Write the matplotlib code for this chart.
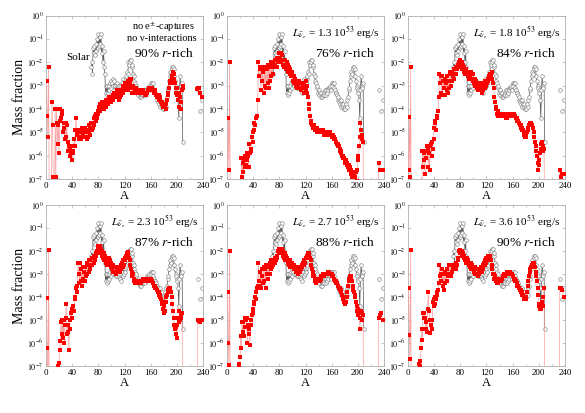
import numpy as np
import matplotlib

matplotlib.use("Agg")
import matplotlib.pyplot as plt
from matplotlib.ticker import FixedLocator, MultipleLocator, NullLocator

plt.rcParams["font.family"] = ["Liberation Serif", "DejaVu Serif"]
plt.rcParams["mathtext.fontset"] = "stix"

# log10 of mass fraction; -9 means far below the plotted range
SOLAR_A_START = 69
SOLAR_LOG = [
    -2.2, -2.0, -2.5, -1.4, -1.6, -1.3, -1.7, -1.2, -1.5, -1.0,
    -1.4, -0.8, -1.3, -0.9, -1.2, -0.8, -1.6, -1.3, -2.0, -1.5,
    -2.2, -2.5, -3.3, -3.0, -3.4, -3.0, -3.3, -3.0, -3.2, -2.9,
    -3.1, -2.8, -2.9, -2.7, -3.0, -2.8, -3.0, -3.0, -3.1, -2.9,
    -3.1, -3.0, -3.1, -3.0, -3.2, -3.0, -3.3, -2.9, -3.1, -2.7,
    -3.0, -2.8, -2.9, -2.7, -2.6, -2.4, -2.5, -2.0, -2.1, -1.9,
    -2.0, -1.9, -2.2, -2.1, -2.5, -2.6, -2.8, -2.9, -3.1, -3.0,
    -3.3, -3.2, -3.4, -3.3, -3.5, -3.3, -3.5, -3.4, -3.4, -3.3,
    -3.4, -3.2, -3.4, -3.2, -3.3, -3.1, -3.2, -3.1, -3.1, -3.0,
    -3.2, -2.9, -3.0, -2.9, -3.1, -2.9, -3.2, -3.3, -3.3, -3.4,
    -3.6, -3.5, -3.7, -3.6, -3.8, -3.6, -3.9, -3.8, -3.9, -3.8,
    -4.0, -3.9, -4.0, -3.8, -3.9, -3.6, -3.5, -3.2, -3.1, -2.8,
    -2.6, -2.4, -2.5, -2.2, -2.3, -2.2, -2.3, -2.6, -2.8, -3.0,
    -3.1, -3.2, -3.3, -3.6, -4.4, -3.2, -2.6, -3.0, -3.1, -2.9,
    -5.4,
]
SOLAR_TAIL_A = [232, 235, 238]
SOLAR_TAIL_LOG = [-3.2, -4.1, -3.6]

TAIL_A = [231, 232, 234, 236, 238]

RED_NOCAP = [
    -2.8, -4.3, -5.2, -2.2, -9, -9, -9, -9, -3.7, -4.7,
    -6.9, -9, -9, -4.0, -6.9, -4.0, -4.6, -5.5, -4.7, -5.9,
    -4.5, -4.0, -4.4, -4.1, -4.2, -5.0, -4.6, -4.8, -5.3, -4.6,
    -5.2, -4.7, -5.8, -5.4, -5.6, -6.0, -5.7, -5.9, -5.6, -6.2,
    -5.9, -5.8, -5.3, -5.6, -4.9, -4.4, -5.0, -5.1, -5.0, -5.3,
    -4.9, -5.2, -5.0, -5.3, -4.8, -5.1, -4.9, -5.2, -4.8, -5.0,
    -4.9, -5.3, -4.9, -5.2, -4.7, -5.0, -4.8, -5.1, -4.6, -4.9,
    -4.6, -4.8, -4.4, -4.7, -4.3, -4.5, -4.2, -4.4, -4.1, -4.2,
    -3.9, -4.1, -3.8, -4.0, -3.7, -3.9, -3.8, -4.0, -3.8, -3.7,
    -3.9, -3.6, -3.8, -3.6, -3.8, -3.5, -3.7, -3.6, -3.7, -3.5,
    -3.6, -3.4, -3.6, -3.3, -3.5, -3.3, -3.4, -3.2, -3.5, -3.4,
    -3.6, -3.3, -3.5, -3.2, -3.4, -3.2, -3.3, -3.0, -3.2, -2.9,
    -3.1, -3.2, -3.0, -2.9, -3.2, -2.8, -3.0, -2.7, -2.9, -2.7,
    -3.1, -3.3, -3.0, -3.3, -3.1, -3.2, -3.1, -3.3, -3.2, -3.3,
    -3.2, -3.3, -3.3, -3.2, -3.3, -3.3, -3.2, -3.3, -3.2, -3.3,
    -3.4, -3.3, -3.4, -3.3, -3.3, -3.2, -3.2, -3.1, -3.2, -3.1,
    -3.2, -3.1, -3.2, -3.2, -3.3, -3.2, -3.3, -3.4, -3.4, -3.5,
    -3.5, -3.4, -3.6, -3.5, -3.6, -3.7, -3.8, -3.7, -3.9, -3.8,
    -3.9, -3.9, -4.0, -3.8, -3.6, -3.4, -3.3, -3.1, -2.9, -2.8,
    -2.9, -2.6, -2.7, -2.4, -2.5, -2.7, -2.9, -3.1, -3.3, -3.1,
    -3.4, -3.6, -3.3, -3.9, -3.5, -4.0, -3.7, -3.2, -3.0, -3.1,
]
RED_NOCAP_TAIL = [-3.15, -3.1, -3.1, -3.3, -3.5]

RED_L13 = [
    -6.6, -4.4, -6.6, -2.0, -9, -9, -9, -9, -9, -9,
    -9, -9, -9, -9, -9, -9, -9, -9, -9, -9,
    -9, -6.1, -6.9, -6.3, -6.7, -6.2, -6.5, -6.0, -6.4, -5.9,
    -6.2, -6.0, -6.5, -5.5, -5.9, -5.7, -5.8, -5.2, -5.4, -5.0,
    -4.9, -4.6, -4.7, -4.4, -4.4, -4.3, -3.6, -2.0, -2.6, -2.2,
    -2.3, -3.2, -2.2, -2.8, -2.4, -3.3, -2.3, -3.0, -2.2, -3.1,
    -2.3, -2.9, -2.1, -3.1, -2.2, -2.8, -2.0, -2.6, -2.1, -2.5,
    -2.0, -2.2, -1.9, -2.1, -1.9, -2.2, -1.8, -2.0, -1.6, -1.6,
    -1.8, -1.6, -2.0, -1.7, -2.1, -1.9, -2.2, -1.9, -2.1, -2.3,
    -2.0, -2.3, -2.1, -2.4, -2.2, -2.5, -2.3, -2.6, -2.4, -2.5,
    -2.8, -2.6, -2.9, -2.7, -3.0, -2.8, -3.1, -2.9, -3.0, -2.8,
    -3.1, -2.9, -3.2, -2.9, -3.1, -3.0, -3.3, -2.9, -3.0, -2.8,
    -3.2, -3.0, -3.3, -3.5, -3.8, -4.0, -4.3, -4.5, -4.6, -4.7,
    -4.7, -4.8, -4.7, -4.9, -4.8, -4.9, -4.8, -5.0, -4.9, -4.9,
    -5.0, -4.9, -5.0, -4.9, -4.9, -5.0, -4.9, -5.0, -5.1, -5.0,
    -5.1, -5.0, -5.1, -5.0, -5.1, -5.0, -5.1, -5.0, -5.1, -5.1,
    -5.2, -5.1, -5.2, -5.3, -5.3, -5.4, -5.4, -5.5, -5.5, -5.6,
    -5.6, -5.7, -5.8, -5.8, -5.9, -6.0, -6.0, -6.1, -6.1, -6.2,
    -6.3, -6.2, -6.4, -6.3, -6.5, -6.4, -6.6, -6.5, -6.8, -6.6,
    -6.9, -6.7, -7.2, -6.8, -7.3, -6.9, -6.7, -7.1, -6.6, -6.2,
    -6.0, -5.6, -5.2, -4.6, -4.9, -5.3, -5.1, -5.4, -9, -9,
]
RED_L13_TAIL = [-9, -6.3, -6.6, -6.6, -6.6]

RED_L18 = [
    -6.6, -4.35, -6.9, -2.2, -9, -9, -9, -9, -9, -9,
    -9, -9, -9, -9, -9, -9, -9, -9, -9, -9,
    -9, -5.8, -6.5, -5.9, -6.2, -6.8, -5.8, -6.1, -5.6, -5.7,
    -6.5, -5.9, -6.6, -5.6, -5.5, -6.0, -5.4, -5.7, -5.3, -4.8,
    -4.6, -4.5, -4.9, -4.3, -4.4, -4.1, -3.5, -2.5, -2.9, -2.6,
    -3.3, -2.6, -3.4, -2.8, -3.1, -2.7, -3.4, -2.9, -3.2, -2.6,
    -3.3, -2.8, -3.1, -2.4, -3.0, -2.5, -2.8, -2.4, -2.6, -2.3,
    -2.7, -2.3, -2.5, -2.2, -2.3, -2.1, -2.2, -2.0, -1.9, -1.9,
    -2.1, -2.0, -2.3, -2.1, -2.4, -2.2, -2.5, -2.3, -2.5, -2.4,
    -2.6, -2.4, -2.7, -2.5, -2.6, -2.4, -2.7, -2.5, -2.8, -2.5,
    -2.9, -2.7, -3.0, -2.8, -3.1, -2.9, -3.2, -3.0, -3.1, -2.9,
    -3.2, -3.0, -3.3, -3.0, -3.2, -2.9, -3.1, -2.8, -3.0, -2.8,
    -2.9, -2.7, -2.8, -2.6, -2.7, -2.5, -2.6, -2.4, -2.7, -2.9,
    -3.1, -3.5, -3.7, -3.9, -4.0, -4.2, -4.1, -4.3, -4.2, -4.3,
    -4.2, -4.3, -4.2, -4.3, -4.3, -4.2, -4.3, -4.2, -4.3, -4.4,
    -4.3, -4.4, -4.3, -4.2, -4.3, -4.2, -4.2, -4.3, -4.2, -4.2,
    -4.3, -4.2, -4.3, -4.3, -4.4, -4.4, -4.5, -4.5, -4.6, -4.6,
    -4.7, -4.7, -4.8, -4.8, -4.9, -4.9, -5.0, -5.1, -5.2, -5.1,
    -5.2, -5.0, -4.9, -4.8, -4.7, -4.7, -4.6, -4.6, -4.7, -4.7,
    -4.8, -5.0, -5.2, -5.4, -5.6, -5.8, -6.0, -6.3, -6.6, -6.4,
    -6.2, -5.9, -5.5, -5.7, -5.4, -5.8, -5.6, -5.7, -9, -9,
]
RED_L18_TAIL = [-9, -6.6, -6.9, -6.8, -6.8]

RED_L23 = [
    -4.05, -6.2, -9, -1.95, -9, -9, -9, -9, -9, -9,
    -9, -9, -9, -9, -9, -9, -9, -7.0, -9, -6.85,
    -6.3, -5.9, -5.1, -5.6, -5.0, -5.8, -5.0, -6.0, -5.2, -4.9,
    -4.3, -5.6, -5.2, -5.5, -6.3, -5.4, -5.0, -4.7, -4.9, -4.5,
    -4.6, -4.4, -4.6, -4.0, -4.1, -3.6, -3.8, -3.5, -2.5, -3.0,
    -3.4, -2.5, -3.3, -2.8, -3.5, -2.7, -3.2, -2.9, -3.3, -2.7,
    -3.1, -2.5, -3.0, -2.6, -2.9, -2.4, -2.8, -2.4, -2.6, -2.3,
    -2.6, -2.3, -2.5, -2.2, -2.4, -2.1, -2.2, -2.0, -1.9, -1.8,
    -2.0, -1.8, -2.1, -1.9, -2.2, -2.0, -2.3, -2.1, -2.4, -2.2,
    -2.5, -2.3, -2.6, -2.4, -2.5, -2.3, -2.6, -2.4, -2.7, -2.5,
    -2.8, -2.6, -2.9, -2.7, -2.9, -2.7, -3.0, -2.8, -2.9, -2.7,
    -2.9, -2.7, -2.9, -2.6, -2.8, -2.5, -2.7, -2.4, -2.6, -2.3,
    -2.4, -2.2, -2.3, -2.1, -2.2, -2.05, -2.3, -2.4, -2.6, -2.8,
    -2.9, -3.1, -3.0, -3.3, -3.2, -3.4, -3.3, -3.4, -3.3, -3.4,
    -3.3, -3.4, -3.3, -3.3, -3.4, -3.3, -3.3, -3.2, -3.3, -3.2,
    -3.3, -3.2, -3.3, -3.2, -3.2, -3.2, -3.2, -3.2, -3.3, -3.2,
    -3.3, -3.3, -3.4, -3.4, -3.5, -3.5, -3.6, -3.6, -3.7, -3.7,
    -3.8, -3.8, -3.9, -3.9, -4.0, -4.1, -4.3, -4.2, -4.5, -4.4,
    -4.7, -4.6, -4.2, -4.0, -3.9, -3.8, -3.7, -3.6, -3.6, -3.7,
    -3.8, -4.0, -4.3, -4.6, -4.9, -5.2, -5.4, -5.3, -5.6, -5.8,
    -5.2, -4.9, -5.1, -4.6, -5.0, -4.8, -4.9, -4.7, -9, -9,
]
RED_L23_TAIL = [-9, -5.0, -5.05, -5.1, -5.0]

RED_L27 = [
    -3.8, -6.0, -6.95, -2.0, -9, -9, -9, -9, -9, -9,
    -9, -9, -9, -9, -9, -9, -9, -6.9, -7.1, -6.6,
    -5.7, -6.2, -5.1, -5.5, -5.1, -5.7, -5.3, -4.9, -5.0, -4.9,
    -6.0, -5.2, -5.6, -5.4, -6.1, -5.2, -5.0, -4.8, -4.7, -4.5,
    -4.3, -4.2, -4.0, -4.1, -3.8, -3.6, -3.5, -2.5, -3.3, -3.5,
    -2.9, -3.6, -2.8, -3.1, -3.4, -2.7, -3.3, -2.8, -3.6, -2.6,
    -3.0, -2.7, -3.2, -2.6, -3.0, -2.5, -2.8, -2.4, -2.7, -2.5,
    -2.6, -2.4, -2.5, -2.3, -2.4, -2.2, -2.3, -2.0, -2.1, -1.9,
    -2.0, -1.9, -2.1, -1.9, -2.2, -2.0, -2.3, -2.1, -2.4, -2.2,
    -2.4, -2.3, -2.5, -2.4, -2.6, -2.4, -2.7, -2.5, -2.6, -2.5,
    -2.7, -2.6, -2.8, -2.7, -2.9, -2.7, -2.9, -2.8, -3.0, -2.7,
    -2.9, -2.7, -2.8, -2.6, -2.7, -2.5, -2.6, -2.4, -2.5, -2.3,
    -2.3, -2.2, -2.2, -2.1, -2.2, -2.1, -2.3, -2.4, -2.6, -2.8,
    -2.9, -3.1, -3.1, -3.3, -3.2, -3.4, -3.3, -3.3, -3.2, -3.3,
    -3.2, -3.3, -3.1, -3.2, -3.1, -3.1, -3.0, -3.1, -3.0, -3.0,
    -3.0, -3.0, -3.0, -2.9, -3.0, -2.9, -3.0, -3.0, -3.0, -3.0,
    -3.1, -3.1, -3.2, -3.2, -3.3, -3.3, -3.4, -3.4, -3.5, -3.5,
    -3.6, -3.6, -3.7, -3.7, -3.8, -3.9, -4.0, -4.1, -4.2, -4.3,
    -4.3, -4.2, -4.0, -3.8, -3.5, -3.3, -3.2, -3.1, -3.1, -3.2,
    -3.3, -3.5, -3.7, -3.8, -4.0, -3.9, -4.2, -4.4, -4.6, -4.5,
    -4.8, -4.7, -5.4, -4.9, -4.6, -5.0, -4.7, -4.8, -9, -9,
]
RED_L27_TAIL = [-9, -4.9, -4.8, -4.7, -5.0]

RED_L36 = [
    -3.6, -5.65, -6.7, -1.95, -9, -9, -9, -9, -9, -9,
    -9, -9, -9, -9, -9, -9, -6.9, -7.0, -6.8, -6.2,
    -5.4, -5.85, -4.7, -4.9, -4.7, -4.9, -5.4, -5.1, -5.5, -4.5,
    -3.8, -4.6, -5.0, -5.55, -5.2, -5.4, -5.0, -4.2, -4.4, -4.1,
    -4.3, -4.0, -4.1, -3.8, -3.9, -3.7, -3.4, -2.6, -3.1, -3.0,
    -3.3, -2.8, -3.5, -3.0, -3.7, -2.9, -3.4, -3.0, -3.3, -2.8,
    -3.1, -2.6, -3.0, -2.6, -3.1, -2.6, -2.9, -2.6, -2.8, -2.6,
    -2.7, -2.6, -2.8, -2.5, -2.6, -2.3, -2.4, -2.0, -2.1, -1.95,
    -2.1, -2.0, -2.2, -2.1, -2.3, -2.2, -2.4, -2.3, -2.5, -2.3,
    -2.5, -2.4, -2.6, -2.5, -2.7, -2.5, -2.8, -2.6, -2.8, -2.7,
    -2.9, -2.7, -3.0, -2.8, -3.0, -2.8, -3.1, -2.9, -3.0, -2.8,
    -2.9, -2.7, -2.9, -2.6, -2.8, -2.5, -2.6, -2.4, -2.5, -2.3,
    -2.4, -2.2, -2.3, -2.2, -2.3, -2.2, -2.4, -2.6, -2.8, -3.0,
    -3.0, -3.2, -3.1, -3.3, -3.2, -3.4, -3.3, -3.4, -3.3, -3.3,
    -3.2, -3.3, -3.2, -3.2, -3.1, -3.1, -3.0, -3.1, -3.0, -3.0,
    -3.0, -2.9, -3.0, -2.9, -3.0, -2.9, -3.0, -3.0, -3.0, -3.1,
    -3.1, -3.2, -3.2, -3.3, -3.3, -3.4, -3.5, -3.5, -3.6, -3.6,
    -3.7, -3.7, -3.8, -3.8, -3.9, -3.9, -4.0, -4.1, -4.0, -4.1,
    -4.0, -3.8, -3.5, -3.3, -3.1, -2.9, -2.8, -2.7, -2.6, -2.6,
    -2.5, -2.5, -2.6, -2.7, -2.9, -3.1, -3.3, -3.6, -3.9, -4.3,
    -4.4, -4.5, -4.3, -4.5, -4.2, -4.4, -4.0, -3.6, -9, -9,
]
RED_L36_TAIL = [-9, -3.6, -3.6, -3.7, -4.0]

PANEL_LABELS = [
    None,
    r"$L_{\bar{\nu}_e}$ = 1.3 10$^{53}$ erg/s",
    r"$L_{\bar{\nu}_e}$ = 1.8 10$^{53}$ erg/s",
    r"$L_{\bar{\nu}_e}$ = 2.3 10$^{53}$ erg/s",
    r"$L_{\bar{\nu}_e}$ = 2.7 10$^{53}$ erg/s",
    r"$L_{\bar{\nu}_e}$ = 3.6 10$^{53}$ erg/s",
]
RICH_LABELS = ["90%", "76%", "84%", "87%", "88%", "90%"]
RED_SERIES = [RED_NOCAP, RED_L13, RED_L18, RED_L23, RED_L27, RED_L36]
RED_TAILS = [RED_NOCAP_TAIL, RED_L13_TAIL, RED_L18_TAIL, RED_L23_TAIL,
             RED_L27_TAIL, RED_L36_TAIL]

X_TICKS = [0, 40, 80, 120, 160, 200, 240]
Y_EXPONENTS = [0, -1, -2, -3, -4, -5, -6, -7]

solar_a = np.arange(SOLAR_A_START, SOLAR_A_START + len(SOLAR_LOG))

fig = plt.figure(figsize=(5.85, 4.13), dpi=100)
W, H = 585.0, 413.0
col_left = [46, 227, 408]
col_width = 157
rows = [(15.7, 179.0), (205.0, 366.0)]

frame_color = "#b0b0b0"
red_line = "#ffa0a0"

for idx in range(6):
    r, c = divmod(idx, 3)
    top, bottom = rows[r]
    ax = fig.add_axes([col_left[c] / W, 1 - bottom / H, col_width / W, (bottom - top) / H])

    # solar reference, same in every panel
    ax.plot(solar_a, 10.0 ** np.array(SOLAR_LOG), color="#505050", lw=0.5,
            marker="o", ms=2.6, mfc="white", mec="#808080", mew=0.45, zorder=2)
    ax.plot(SOLAR_TAIL_A, 10.0 ** np.array(SOLAR_TAIL_LOG), ls="none",
            marker="o", ms=2.6, mfc="white", mec="#808080", mew=0.45, zorder=2)

    red = 10.0 ** np.array(RED_SERIES[idx])
    a = np.arange(1, len(red) + 1)
    ax.plot(a, red, color=red_line, lw=0.5, zorder=3)
    ax.plot(a, red, ls="none", marker="s", ms=2.4, color="#ff0000", mew=0, zorder=4)
    tail = 10.0 ** np.array(RED_TAILS[idx])
    ax.plot(TAIL_A, tail, color=red_line, lw=0.5, zorder=3)
    ax.plot(TAIL_A, tail, ls="none", marker="s", ms=2.4, color="#ff0000", mew=0, zorder=4)

    ax.set_yscale("log")
    ax.set_xlim(0, 240)
    ax.set_ylim(1e-7, 1)
    ax.xaxis.set_major_locator(FixedLocator(X_TICKS))
    ax.xaxis.set_minor_locator(MultipleLocator(20))
    ax.set_xticklabels([str(t) for t in X_TICKS])
    ax.yaxis.set_major_locator(FixedLocator([10.0 ** e for e in Y_EXPONENTS]))
    ax.yaxis.set_minor_locator(NullLocator())
    ax.set_yticklabels([r"$10^{%d}$" % e for e in Y_EXPONENTS])

    ax.tick_params(which="both", direction="in", top=True, right=True,
                   color=frame_color, width=0.5, labelsize=6.5, pad=2)
    ax.tick_params(which="major", length=2.5)
    ax.tick_params(which="minor", length=1.5)
    ax.tick_params(axis="y", labelsize=5.8, pad=1.5)
    for spine in ax.spines.values():
        spine.set_color(frame_color)
        spine.set_linewidth(0.6)

    ax.set_xlabel("A", fontsize=9, labelpad=0)
    if c == 0:
        ax.set_ylabel("Mass fraction", fontsize=10, labelpad=1)

    rich = RICH_LABELS[idx] + r" $r$-rich"
    if idx == 0:
        ax.text(0.95, 0.93, r"no e$^{\pm}$-captures", transform=ax.transAxes,
                ha="right", va="center", fontsize=7.5)
        ax.text(0.96, 0.86, "no ν-interactions", transform=ax.transAxes,
                ha="right", va="center", fontsize=7.5)
        ax.text(0.94, 0.77, rich, transform=ax.transAxes,
                ha="right", va="center", fontsize=9.5)
        ax.text(0.13, 0.745, "Solar", transform=ax.transAxes,
                ha="left", va="center", fontsize=8)
    else:
        ax.text(0.97, 0.89, PANEL_LABELS[idx], transform=ax.transAxes,
                ha="right", va="center", fontsize=8)
        ax.text(0.94, 0.77, rich, transform=ax.transAxes,
                ha="right", va="center", fontsize=9.5)

fig.savefig("out.png", dpi=100)
